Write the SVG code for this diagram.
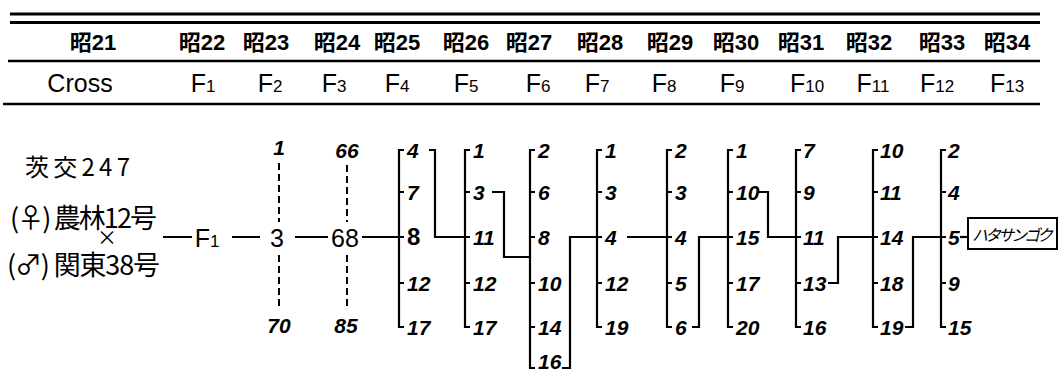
<svg xmlns="http://www.w3.org/2000/svg" width="1060" height="374" viewBox="0 0 1060 374">
<style>
.rule{stroke:#000;fill:none}
.hd{font-family:"Liberation Sans","Noto Sans CJK JP",sans-serif;font-size:22px;font-weight:bold;fill:#000;text-anchor:middle}
.fh{font-family:"Liberation Sans",sans-serif;font-size:25px;fill:#000;text-anchor:middle}
.sub{font-size:17px}
.ln{stroke:#000;stroke-width:2.2;fill:none}
.dash{stroke:#000;stroke-width:2;fill:none;stroke-dasharray:7 4}
.n{font-family:"Liberation Sans",sans-serif;font-style:italic;font-weight:bold;font-size:21px;fill:#000}
.cj{font-family:"Noto Sans CJK JP",sans-serif;fill:#000}
</style>
<rect width="1060" height="374" fill="#fff"/>
<g id="header">
<line class="rule" x1="10" y1="14" x2="1040" y2="14" stroke-width="3"/>
<line class="rule" x1="10" y1="22.5" x2="1040" y2="22.5" stroke-width="3"/>
<line class="rule" x1="8" y1="61" x2="1040" y2="61" stroke-width="2.5"/>
<line class="rule" x1="3" y1="104" x2="1040" y2="104" stroke-width="2.5"/>
<text class="hd" x="93" y="50">昭21</text>
<text class="hd" x="202" y="50">昭22</text>
<text class="hd" x="266" y="50">昭23</text>
<text class="hd" x="337" y="50">昭24</text>
<text class="hd" x="397" y="50">昭25</text>
<text class="hd" x="466" y="50">昭26</text>
<text class="hd" x="529" y="50">昭27</text>
<text class="hd" x="600" y="50">昭28</text>
<text class="hd" x="670" y="50">昭29</text>
<text class="hd" x="736" y="50">昭30</text>
<text class="hd" x="801" y="50">昭31</text>
<text class="hd" x="869" y="50">昭32</text>
<text class="hd" x="942" y="50">昭33</text>
<text class="hd" x="1007" y="50">昭34</text>
<text class="fh" x="80" y="92" font-size="26">Cross</text>
<text class="fh" x="203" y="92">F<tspan class="sub">1</tspan></text>
<text class="fh" x="270" y="92">F<tspan class="sub">2</tspan></text>
<text class="fh" x="334" y="92">F<tspan class="sub">3</tspan></text>
<text class="fh" x="397" y="92">F<tspan class="sub">4</tspan></text>
<text class="fh" x="466" y="92">F<tspan class="sub">5</tspan></text>
<text class="fh" x="538" y="92">F<tspan class="sub">6</tspan></text>
<text class="fh" x="597" y="92">F<tspan class="sub">7</tspan></text>
<text class="fh" x="664" y="92">F<tspan class="sub">8</tspan></text>
<text class="fh" x="732" y="92">F<tspan class="sub">9</tspan></text>
<text class="fh" x="807" y="92">F<tspan class="sub">10</tspan></text>
<text class="fh" x="873" y="92">F<tspan class="sub">11</tspan></text>
<text class="fh" x="937" y="92">F<tspan class="sub">12</tspan></text>
<text class="fh" x="1007" y="92">F<tspan class="sub">13</tspan></text>
</g>
<g id="cross">
<text class="cj" x="25" y="176" font-size="24" textLength="105" lengthAdjust="spacing">茨交247</text>
<text class="cj" x="10" y="228" font-size="27" textLength="147" lengthAdjust="spacing">(♀) 農林12号</text>
<text class="cj" x="107" y="245" font-size="20" text-anchor="middle">×</text>
<text class="cj" x="7" y="275" font-size="27" textLength="153" lengthAdjust="spacing">(♂) 関東38号</text>
</g>
<g id="F1"><text class="fh" x="207" y="247" font-size="26">F<tspan class="sub">1</tspan></text></g>
<g id="F2">
<text class="n" x="279" y="155" text-anchor="middle" font-style="normal" font-size="17">1</text>
<text class="fh" x="277" y="247" font-size="24">3</text>
<text class="n" x="279" y="333" text-anchor="middle">70</text>
</g>
<g id="F3">
<text class="n" x="347" y="158" text-anchor="middle">66</text>
<text class="fh" x="345" y="247" font-size="26">68</text>
<text class="n" x="346" y="333" text-anchor="middle">85</text>
</g>
<g id="F4">
<path class="ln" d="M404,150H399V327H404M399,192H404M399,237H404M399,283H404"/>
<text class="n" x="407"><tspan y="158">4</tspan><tspan x="407" y="200">7</tspan><tspan x="407" y="245" font-style="normal" font-size="24">8</tspan><tspan x="407" y="291">12</tspan><tspan x="407" y="335">17</tspan></text>
</g>
<g id="F5">
<path class="ln" d="M470,150H465V327H470M465,192H470M465,237H470M465,283H470"/>
<text class="n" x="473"><tspan y="158">1</tspan><tspan x="473" y="200">3</tspan><tspan x="473" y="245">11</tspan><tspan x="473" y="291">12</tspan><tspan x="473" y="335">17</tspan></text>
</g>
<g id="F6">
<path class="ln" d="M535,150H530V368H535M530,192H535M530,237H535M530,283H535M530,327H535"/>
<text class="n" x="538"><tspan y="158">2</tspan><tspan x="538" y="200">6</tspan><tspan x="538" y="245">8</tspan><tspan x="538" y="291">10</tspan><tspan x="538" y="335">14</tspan></text>
<text class="n" x="538" y="369" font-size="17">16</text>
</g>
<g id="F7">
<path class="ln" d="M602,150H597V327H602M597,192H602M597,237H602M597,283H602"/>
<text class="n" x="605"><tspan y="158">1</tspan><tspan x="605" y="200">3</tspan><tspan x="605" y="245">4</tspan><tspan x="605" y="291">12</tspan><tspan x="605" y="335">19</tspan></text>
</g>
<g id="F8">
<path class="ln" d="M672,150H667V327H672M667,192H672M667,237H672M667,283H672"/>
<text class="n" x="675"><tspan y="158">2</tspan><tspan x="675" y="200">3</tspan><tspan x="675" y="245">4</tspan><tspan x="675" y="291">5</tspan><tspan x="675" y="335">6</tspan></text>
</g>
<g id="F9">
<path class="ln" d="M733,150H728V327H733M728,192H733M728,237H733M728,283H733"/>
<text class="n" x="736"><tspan y="158">1</tspan><tspan x="736" y="200">10</tspan><tspan x="736" y="245">15</tspan><tspan x="736" y="291">17</tspan><tspan x="736" y="335">20</tspan></text>
</g>
<g id="F10">
<path class="ln" d="M801,150H796V327H801M796,192H801M796,237H801M796,283H801"/>
<text class="n" x="803"><tspan y="158">7</tspan><tspan x="803" y="200">9</tspan><tspan x="803" y="245">11</tspan><tspan x="803" y="291">13</tspan><tspan x="803" y="335">16</tspan></text>
</g>
<g id="F11">
<path class="ln" d="M878,150H873V327H878M873,192H878M873,237H878M873,283H878"/>
<text class="n" x="880"><tspan y="158">10</tspan><tspan x="880" y="200">11</tspan><tspan x="880" y="245">14</tspan><tspan x="880" y="291">18</tspan><tspan x="880" y="335">19</tspan></text>
</g>
<g id="F12">
<path class="ln" d="M946,150H941V327H946M941,192H946M941,237H946M941,283H946"/>
<text class="n" x="948"><tspan y="158">2</tspan><tspan x="948" y="200">4</tspan><tspan x="948" y="245">5</tspan><tspan x="948" y="291">9</tspan><tspan x="948" y="335">15</tspan></text>
</g>
<g id="hatasangoku">
<rect x="968" y="218" width="89" height="31" fill="#fff" stroke="#000" stroke-width="2"/>
<text class="cj" x="972" y="241" font-size="16" font-style="italic" textLength="81" lengthAdjust="spacing">ハタサンゴク</text>
</g>
<g id="connectors">
<path class="ln" d="M163,237H192M232,237H260M295,237H328"/>
<path class="dash" d="M279,163V222M279,255V310M347,165V222M347,255V310"/>
<path class="ln" d="M362,237H399"/>
<path class="ln" d="M429,150H435V237H465"/>
<path class="ln" d="M492,192H504V257H530"/>
<path class="ln" d="M562,368H570V237H597"/>
<path class="ln" d="M627,237H667"/>
<path class="ln" d="M692,327H699V237H728"/>
<path class="ln" d="M757,192H768V237H796"/>
<path class="ln" d="M828,283H838V237H873"/>
<path class="ln" d="M905,327H913V237H941"/>
<path class="ln" d="M960,237H968"/>
</g>
</svg>
